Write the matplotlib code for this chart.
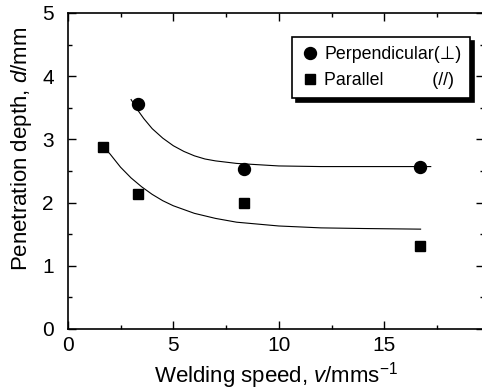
import numpy as np
import matplotlib
matplotlib.use("Agg")
import matplotlib.pyplot as plt
from matplotlib.ticker import MultipleLocator

plt.rcParams['font.family'] = ['Liberation Sans', 'DejaVu Sans']
plt.rcParams['mathtext.fontset'] = 'custom'
plt.rcParams['mathtext.rm'] = 'Liberation Sans'
plt.rcParams['mathtext.it'] = 'Liberation Sans:italic'

# Datos medidos (velocidad de soldadura en mm/s, profundidad en mm)
perp_x = [3.33, 8.33, 16.67]
perp_y = [3.56, 2.53, 2.56]
par_x = [1.67, 3.33, 8.33, 16.67]
par_y = [2.88, 2.13, 2.00, 1.32]

# Curvas de ajuste
perp_fit_x = [3.0, 3.3, 3.6, 4.0, 4.5, 5.0, 5.5, 6.0, 6.5, 7.0, 8.0, 9.0, 10.0, 12.0, 14.0, 17.2]
perp_fit_y = [3.63, 3.47, 3.33, 3.17, 3.02, 2.90, 2.81, 2.74, 2.69, 2.66, 2.62, 2.60, 2.58, 2.57, 2.57, 2.57]
par_fit_x = [1.65, 1.8, 2.0, 2.5, 3.0, 3.5, 4.0, 4.5, 5.0, 6.0, 7.0, 8.0, 9.0, 10.0, 12.0, 14.0, 16.72]
par_fit_y = [2.89, 2.84, 2.77, 2.56, 2.39, 2.25, 2.13, 2.03, 1.95, 1.83, 1.75, 1.69, 1.66, 1.63, 1.60, 1.59, 1.58]

W, H = 482, 391
fig = plt.figure(figsize=(W / 100, H / 100), dpi=100)
ax = fig.add_axes([67.8 / W, (H - 329) / H, (483.5 - 67.8) / W, 316 / H])

ax.plot(perp_fit_x, perp_fit_y, color='black', lw=0.8)
ax.plot(par_fit_x, par_fit_y, color='black', lw=0.8)
ax.plot(perp_x, perp_y, 'o', color='black', ms=8.6, label='Perpendicular(\u22a5)')
ax.plot(par_x, par_y, 's', color='black', ms=6.6, label='Parallel          (//)')

ax.set_xlim(0, (483.5 - 67.8) / 21.1)
ax.set_ylim(0, 5)
ax.xaxis.set_major_locator(MultipleLocator(5))
ax.xaxis.set_minor_locator(MultipleLocator(2.5))
ax.yaxis.set_major_locator(MultipleLocator(1))
ax.yaxis.set_minor_locator(MultipleLocator(0.5))
ax.tick_params(which='both', direction='in', top=True, right=True, width=1.0)
ax.tick_params(which='major', length=6, labelsize=15)
ax.tick_params(which='minor', length=3)
ax.tick_params(axis='x', pad=5)
ax.tick_params(axis='y', pad=10)
for s in ax.spines.values():
    s.set_linewidth(1.2)

ax.set_xlabel('Welding speed, $\\mathit{v}$/mms$^{\\mathrm{-1}}$', fontsize=16, labelpad=4)
ax.set_ylabel('Penetration depth, $\\mathit{d}$/mm', fontsize=16)
ax.yaxis.set_label_coords(-0.082, 0.57)

leg = ax.legend(loc='upper left', bbox_to_anchor=(292 / W, 1 - 37 / H),
                bbox_transform=fig.transFigure, fontsize=12.8, frameon=True,
                fancybox=False, edgecolor='black', framealpha=1, borderaxespad=0,
                shadow={'color': 'black', 'alpha': 1, 'ox': 3, 'oy': -3},
                handletextpad=0.3, borderpad=0.5, labelspacing=0.5,
                handlelength=1.0)
leg.get_frame().set_linewidth(1.2)

fig.savefig('out.png', dpi=100)
